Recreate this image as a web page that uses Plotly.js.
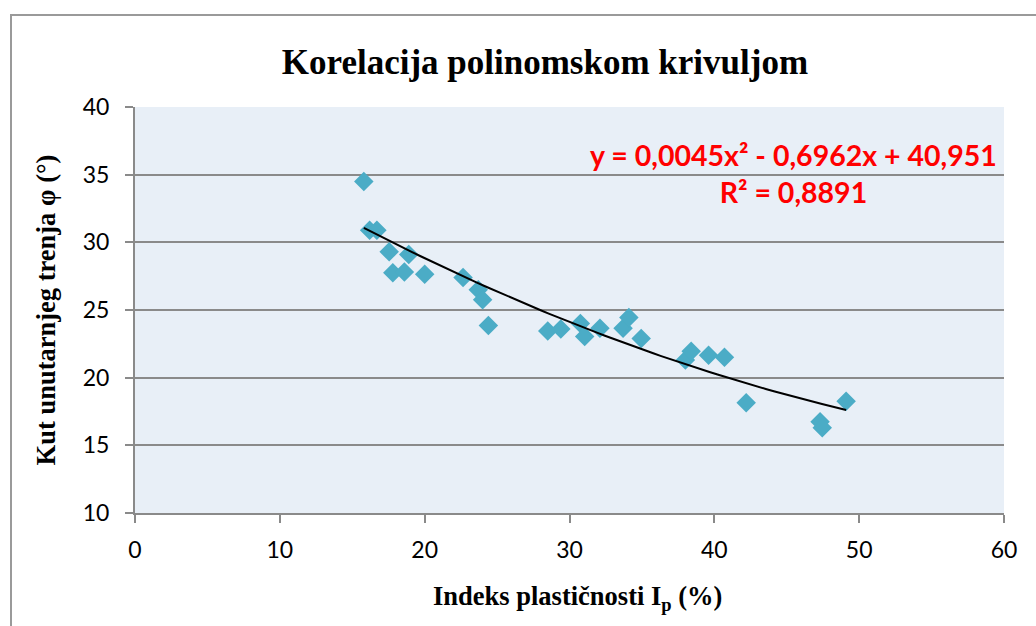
<!DOCTYPE html>
<html>
<head>
<meta charset="utf-8">
<script src="https://cdn.plot.ly/plotly-3.0.1.min.js"></script>
<style>
  html, body { margin: 0; padding: 0; background: #fff; }
  #wrap { position: relative; width: 1036px; height: 626px; overflow: hidden; }
  #chart { width: 1036px; height: 626px; }
  #frame { position: absolute; left: 10px; top: 14px; width: 1100px; height: 700px;
           border-left: 2px solid #9a9a9a; border-top: 2px solid #9a9a9a; pointer-events: none; }
</style>
</head>
<body>
<div id="wrap">
  <div id="chart"></div>
  <div id="frame"></div>
</div>
<script>
// Data
const plasticityIndex = [15.8, 16.2, 16.7, 17.55, 18.9, 17.8, 18.6, 20.0, 22.65, 23.7, 24.0, 24.4,
                         28.5, 29.4, 30.75, 31.05, 32.1, 33.7, 34.1, 34.95, 38.0, 38.4, 39.6, 40.7,
                         42.2, 47.3, 47.45, 49.1];
const frictionAngle   = [34.5, 30.9, 30.9, 29.3, 29.1, 27.75, 27.8, 27.65, 27.4, 26.5, 25.75, 23.85,
                         23.45, 23.6, 24.0, 23.05, 23.65, 23.65, 24.45, 22.9, 21.3, 21.95, 21.65, 21.5,
                         18.15, 16.75, 16.3, 18.25];
// Trendline equation shown on the chart: y = a x^2 + b x + c
const trendCoef = [0.0045, -0.6962, 40.951];
const trendRange = [15.8, 49.1];
const equationText = "y = 0,0045x² - 0,6962x + 40,951";
const r2Text = "R² = 0,8891";
const xTitleText = "Indeks plastičnosti I<sub>p</sub> (%)";
const yTitleText = "Kut unutarnjeg trenja φ (°)";
const xTickVals = [0, 10, 20, 30, 40, 50, 60];
const yTickVals = [10, 15, 20, 25, 30, 35, 40];

const tx = [], ty = [];
const nSteps = 60;
for (let i = 0; i <= nSteps; i++) {
  const x = trendRange[0] + (trendRange[1] - trendRange[0]) * i / nSteps;
  tx.push(x);
  ty.push(trendCoef[0] * x * x + trendCoef[1] * x + trendCoef[2]);
}

const traces = [
  {
    x: plasticityIndex, y: frictionAngle, type: 'scatter', mode: 'markers',
    marker: { symbol: 'diamond', size: 15, color: '#4BACC6', line: { width: 0 } },
    showlegend: false, hoverinfo: 'x+y'
  },
  {
    x: tx, y: ty, type: 'scatter', mode: 'lines',
    line: { color: '#000000', width: 2 },
    showlegend: false, hoverinfo: 'skip'
  }
];

const tickFont = { family: 'Lato, "Liberation Sans", sans-serif', size: 23, color: '#000' };
const serifBold = 'Liberation Serif, "Times New Roman", serif';

const layout = {
  width: 1036, height: 626,
  margin: { l: 135, r: 32, t: 107, b: 113 },
  paper_bgcolor: '#ffffff',
  plot_bgcolor: '#E8EFF7',
  title: {
    text: '<b>Korelacija polinomskom krivuljom</b>',
    font: { family: serifBold, size: 35, color: '#000' },
    xref: 'container', x: 0.526, xanchor: 'center',
    yref: 'container', y: 0.901, yanchor: 'middle'
  },
  xaxis: {
    range: [0, 60], tickvals: xTickVals, ticktext: xTickVals.map(String),
    showgrid: false, zeroline: false,
    showline: true, linecolor: '#8a8a8a', linewidth: 2,
    ticks: 'outside', ticklen: 8, tickwidth: 2, tickcolor: '#8a8a8a',
    ticklabelstandoff: 7,
    tickfont: tickFont
  },
  yaxis: {
    range: [10, 40], tickvals: yTickVals, ticktext: yTickVals.map(String),
    showgrid: true, gridcolor: '#8a8a8a', gridwidth: 2, zeroline: false,
    showline: true, linecolor: '#8a8a8a', linewidth: 2,
    ticks: 'outside', ticklen: 8, tickwidth: 2, tickcolor: '#8a8a8a',
    ticklabelstandoff: 11,
    tickfont: tickFont,
    title: { text: '<b>' + yTitleText + '</b>',
             font: { family: serifBold, size: 26.5, color: '#000' }, standoff: 19 }
  },
  annotations: [
    {
      xref: 'paper', yref: 'paper',
      x: (793 - 135) / (1004 - 135), y: (513 - 173) / (513 - 107),
      xanchor: 'center', yanchor: 'middle', align: 'center', showarrow: false,
      text: '<b>' + equationText + '</b><br><b>' + r2Text + '</b>',
      font: { family: 'Lato, "Liberation Sans", sans-serif', size: 28.5, color: '#FF0000' }
    },
    {
      xref: 'paper', yref: 'paper',
      x: (577 - 135) / (1004 - 135), y: (513 - 598) / (513 - 107),
      xanchor: 'center', yanchor: 'middle', showarrow: false,
      text: '<b>' + xTitleText + '</b>',
      font: { family: serifBold, size: 26.5, color: '#000' }
    }
  ]
};

Plotly.newPlot('chart', traces, layout, { displayModeBar: false, staticPlot: true });
</script>
</body>
</html>
